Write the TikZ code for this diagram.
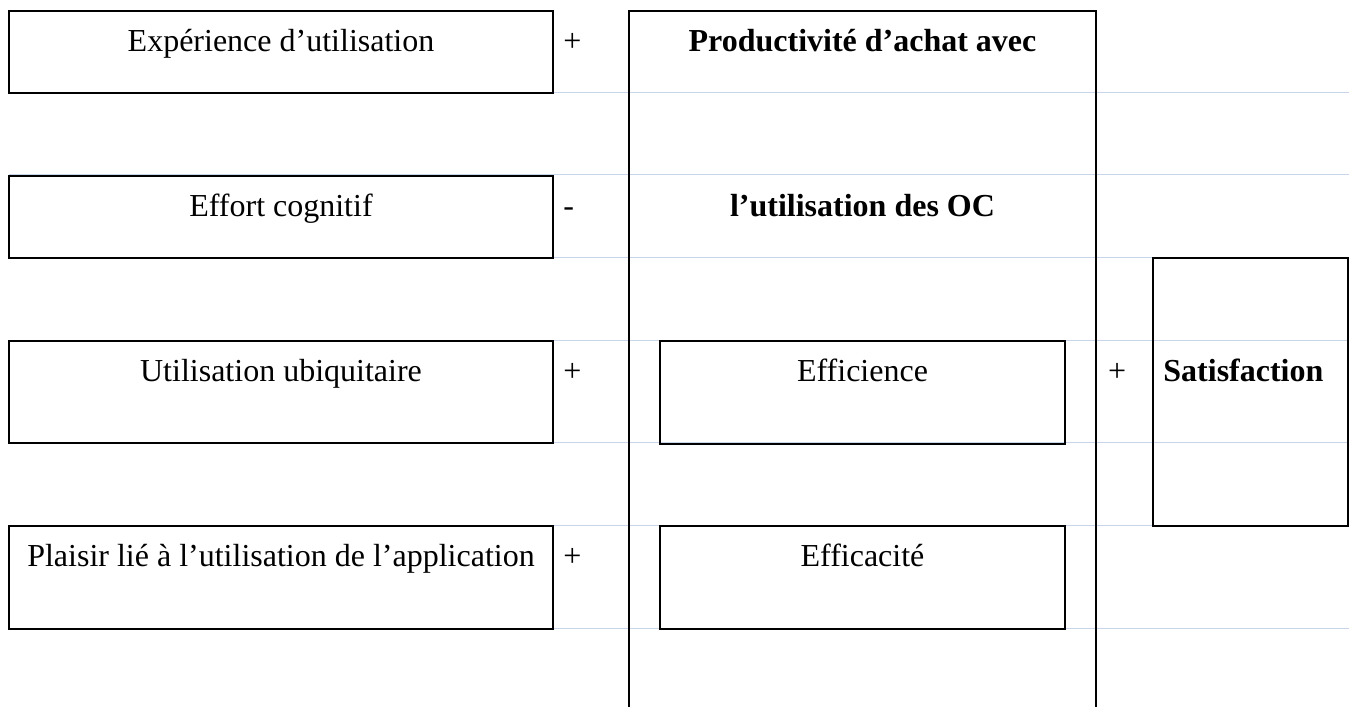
\documentclass[tikz,border=0pt]{standalone}
\usepackage{fontspec}
\setmainfont{Liberation Serif}
\usetikzlibrary{fit}
\definecolor{gridline}{RGB}{200,212,232}
\tikzset{
  box/.style={draw=black, line width=1pt, inner sep=0pt, rectangle},
  txt/.style={font=\fontsize{16pt}{19pt}\selectfont, inner sep=0pt, anchor=base},
  btxt/.style={font=\fontsize{16pt}{19pt}\selectfont\bfseries, inner sep=0pt, anchor=base},
  sign/.style={font=\fontsize{16pt}{19pt}\selectfont, inner sep=0pt, anchor=base west},
  rule/.style={draw=gridline, line width=0.5pt},
  colline/.style={draw=black, line width=1pt},
}
\begin{document}
\begin{tikzpicture}[x=0.5pt, y=-0.5pt]
\useasboundingbox[fill=white] (0,0) rectangle (1349,707);
% light table rules
\foreach \yy in {92.5,174.5,257,340,442,525.5,628}
  \draw[rule] (9,\yy) -- (1349,\yy);
% left column boxes
\node[box, fit={(9,10.7) (553,92.7)}] (b1) {};
\node[box, fit={(9,176) (553,257.7)}] (b2) {};
\node[box, fit={(9,341) (553,443)}] (b3) {};
\node[box, fit={(9,526) (553,628.7)}] (b4) {};
\node[txt] (t1) at (281,51) {Expérience d’utilisation};
\node[txt] (t2) at (281,216.7) {Effort cognitif};
\node[txt] (t3) at (281,381.5) {Utilisation ubiquitaire};
\node[txt] (t4) at (281,566.7) {Plaisir lié à l’utilisation de l’application};
% signs
\node[sign] (s1) at (563,51) {+};
\node[sign] (s2) at (563,216.7) {-};
\node[sign] (s3) at (563,381.5) {+};
\node[sign] (s4) at (563,566.7) {+};
% central column
\coordinate (cbl) at (629,707);
\coordinate (ctl) at (629,10.7);
\coordinate (ctr) at (1096,10.7);
\coordinate (cbr) at (1096,707);
\draw[colline] (cbl) -- (ctl) -- (ctr) -- (cbr);
\node[btxt] (p1) at (862.5,51) {Productivité d’achat avec};
\node[btxt] (p2) at (862.5,216.7) {l’utilisation des OC};
\node[box, fit={(660,341) (1065,444)}] (e1) {};
\node[box, fit={(660,526) (1065,629)}] (e2) {};
\node[txt] (te1) at (862.5,381.5) {Efficience};
\node[txt] (te2) at (862.5,566.7) {Efficacité};
% satisfaction
\node[sign] (s5) at (1107.7,381.5) {+};
\node[box, fit={(1153,258.3) (1348,525.7)}] (sat) {};
\node[btxt, anchor=base west] (tsat) at (1163,381.5) {Satisfaction};
\end{tikzpicture}
\end{document}
